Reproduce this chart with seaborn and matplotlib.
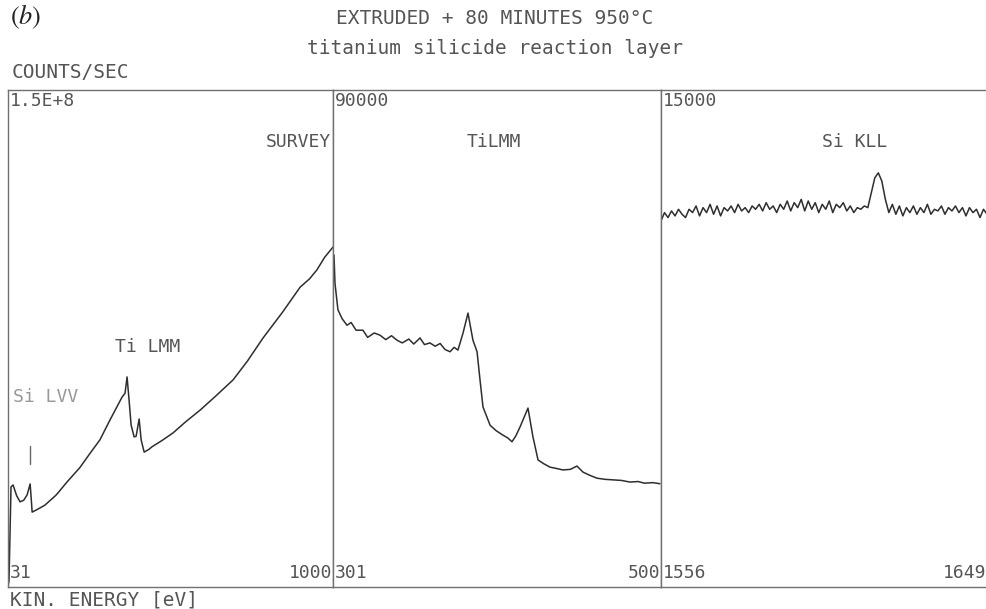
import numpy as np
import pandas as pd
import seaborn as sns
import matplotlib.pyplot as plt

# survey spectrum (eV, counts/sec)
survey_ev = [31, 34, 40, 46, 57, 67, 78, 88, 97, 100, 103, 120, 141, 175, 207, 245,
             276, 305, 335, 371, 380, 386, 392, 398, 407, 413, 422, 428, 437, 452,
             460, 490, 523, 560, 604, 650, 702, 745, 791, 850, 902, 930, 952, 975, 1000]
survey_counts = [0, 0.2e7, 3.02e7, 3.08e7, 2.75e7, 2.57e7, 2.62e7, 2.78e7, 3.11e7, 2.7e7,
                 2.26e7, 2.35e7, 2.47e7, 2.78e7, 3.17e7, 3.6e7, 4.04e7, 4.44e7, 5.04e7,
                 5.73e7, 5.85e7, 6.34e7, 5.64e7, 4.89e7, 4.53e7, 4.55e7, 5.07e7, 4.44e7,
                 4.07e7, 4.16e7, 4.23e7, 4.42e7, 4.65e7, 4.98e7, 5.34e7, 5.76e7, 6.25e7,
                 6.82e7, 7.51e7, 8.3e7, 9.05e7, 9.3e7, 9.57e7, 9.95e7, 1.026e8]

# Ti LMM window
ti_ev = [301.6, 302.2, 304.0, 306.5, 309.5, 312, 315, 319.2, 322, 326, 329.5, 333,
         336.5, 339.8, 343, 347, 350, 353.8, 356.5, 359.8, 363, 366, 369, 372.0,
         374.5, 376.8, 379.9, 382.9, 385.9, 388.4, 390.2, 392.0, 396.3, 400, 404.1,
         407, 409.6, 412, 414.5, 419.3, 422.3, 425.4, 429, 432.7, 436, 440.5, 445,
         449.0, 452.7, 457, 461.2, 466, 470.9, 476, 481.2, 486, 490, 495, 499.4]
ti_counts = [60100, 55000, 50200, 48600, 47400, 47900, 46500, 46500, 45200, 46000,
             45600, 44800, 45500, 44700, 44200, 44900, 44000, 45100, 43900, 44200,
             43600, 44100, 43000, 42600, 43400, 42900, 46000, 49600, 44700, 42600,
             37500, 32600, 29300, 28300, 27500, 27000, 26300, 27400, 29000, 32400,
             27200, 23000, 22300, 21700, 21500, 21200, 21300, 21900, 20800, 20200,
             19700, 19500, 19400, 19300, 19000, 19100, 18800, 18900, 18700]

# Si KLL window, 1 eV steps
si_ev = list(range(1556, 1650))
si_counts = [11050, 11300, 11150, 11350, 11200, 11400, 11250, 11150, 11400, 11300,
             11500, 11200, 11450, 11300, 11550, 11250, 11500, 11200, 11450, 11350,
             11500, 11300, 11550, 11350, 11450, 11300, 11500, 11400, 11550, 11350,
             11600, 11400, 11500, 11300, 11550, 11400, 11650, 11350, 11600, 11450,
             11700, 11350, 11650, 11400, 11600, 11300, 11550, 11400, 11650, 11300,
             11550, 11450, 11600, 11350, 11500, 11300, 11450, 11400, 11500, 11450,
             11900, 12350, 12500, 12250, 11700, 11300, 11550, 11250, 11500, 11200,
             11450, 11300, 11500, 11250, 11450, 11300, 11550, 11250, 11400, 11350,
             11500, 11250, 11450, 11350, 11500, 11300, 11450, 11200, 11450, 11300,
             11400, 11150, 11400, 11250]

panels = [
    (survey_ev, survey_counts, (31, 1000), 1.5e8, "1.5E+8", "31", "1000"),
    (ti_ev, ti_counts, (301, 500), 90000, "90000", "301", "500"),
    (si_ev, si_counts, (1556, 1649), 15000, "15000", "1556", "1649"),
]

sns.set_style("white")
plt.rcParams['font.family'] = ['DejaVu Sans Mono', 'DejaVu Sans']
plt.rcParams['mathtext.fontset'] = 'stix'

txt = '#555555'
line_c = '#2e2e2e'
frame_c = '#707070'
fs = 13

fig = plt.figure(figsize=(9.87, 6.09), dpi=100)
W, H = 987, 609
lefts = [8, 333, 661]
rights = [333, 661, 987]
top, bottom = 90, 587

axes = []
for i, (ev, cnt, xl, ymax, ytop, xlo, xhi) in enumerate(panels):
    ax = fig.add_axes([lefts[i] / W, 1 - bottom / H,
                       (rights[i] - lefts[i]) / W, (bottom - top) / H])
    df = pd.DataFrame({"ev": ev, "counts": cnt})
    sns.lineplot(data=df, x="ev", y="counts", ax=ax, color=line_c, lw=1.1,
                 estimator=None, sort=False)
    ax.set_xlim(*xl)
    ax.set_ylim(0, ymax)
    ax.set_xticks([])
    ax.set_yticks([])
    ax.set_xlabel("")
    ax.set_ylabel("")
    for s in ax.spines.values():
        s.set_color(frame_c)
        s.set_linewidth(1.0)
    if i == 2:
        ax.spines['right'].set_visible(False)
    ax.text(0.006, 0.995, ytop, transform=ax.transAxes, ha='left', va='top',
            fontsize=fs, color=txt)
    ax.text(0.006, 0.01, xlo, transform=ax.transAxes, ha='left', va='bottom',
            fontsize=fs, color=txt)
    ax.text(0.997, 0.01, xhi, transform=ax.transAxes, ha='right', va='bottom',
            fontsize=fs, color=txt)
    axes.append(ax)

# panel labels
axes[0].text(0.995, 0.895, "SURVEY", transform=axes[0].transAxes, ha='right',
             va='center', fontsize=fs, color=txt)
axes[1].text(0.49, 0.895, "TiLMM", transform=axes[1].transAxes, ha='center',
             va='center', fontsize=fs, color=txt)
axes[2].text(0.595, 0.895, "Si KLL", transform=axes[2].transAxes, ha='center',
             va='center', fontsize=fs, color=txt)
axes[0].text(0.43, 0.482, "Ti LMM", transform=axes[0].transAxes, ha='center',
             va='center', fontsize=fs, color=txt)
axes[0].text(0.015, 0.383, "Si LVV", transform=axes[0].transAxes, ha='left',
             va='center', fontsize=fs, color='#999999')
axes[0].plot([0.068, 0.068], [0.247, 0.283], transform=axes[0].transAxes,
             color='#666666', lw=1.0)

# figure titles
fig.text(10 / W, 1 - 17 / H, r"$(b)$", fontsize=19, ha='left', va='center',
         color='#222222')
fig.text(495 / W, 1 - 18 / H, "EXTRUDED + 80 MINUTES 950°C", fontsize=14,
         ha='center', va='center', color=txt)
fig.text(495 / W, 1 - 48 / H, "titanium silicide reaction layer", fontsize=14,
         ha='center', va='center', color=txt)
fig.text(12 / W, 1 - 72 / H, "COUNTS/SEC", fontsize=14, ha='left',
         va='center', color=txt)
fig.text(10 / W, 1 - 600 / H, "KIN. ENERGY [eV]", fontsize=14, ha='left',
         va='center', color=txt)

fig.savefig("out.png", dpi=100)
